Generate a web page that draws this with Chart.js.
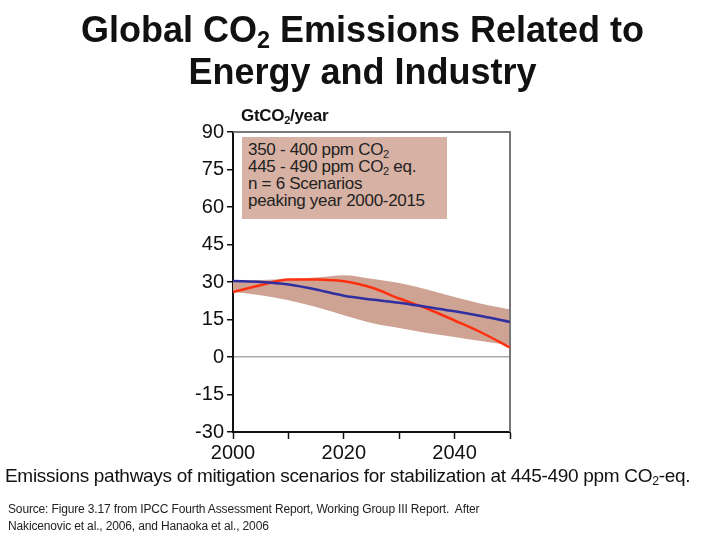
<!DOCTYPE html>
<html>
<head>
<meta charset="utf-8">
<style>
  body { margin:0; background:#fff; font-family:"Liberation Sans", Arial, sans-serif; }
  #wrap { position:relative; width:725px; height:544px; overflow:hidden; }
  #c { position:absolute; left:0; top:0; }
  .t { position:absolute; color:#111; white-space:nowrap; }
  #title { left:0; width:725px; top:9px; text-align:center; font-weight:bold; font-size:36px; line-height:42px; }
  #unit { left:241px; top:106px; font-weight:bold; font-size:17px; letter-spacing:-0.3px; }
  #note { left:242px; top:137px; width:205px; height:82px; background:#d7b1a3; font-size:17px; line-height:17px; letter-spacing:-0.3px; padding:4px 0 0 6px; box-sizing:border-box; color:#222; }
  #cap { left:5px; top:465px; font-size:19px; letter-spacing:-0.3px; }
  #src { left:8px; top:501px; font-size:12px; line-height:17px; letter-spacing:-0.15px; color:#222; }
  sub { font-size:65%; vertical-align:-0.25em; line-height:0; }
</style>
</head>
<body>
<div id="wrap">
  <canvas id="c" width="725" height="544"></canvas>
  <div class="t" id="title">Global CO<sub>2</sub> Emissions Related to<br>Energy and Industry</div>
  <div class="t" id="unit">GtCO<sub>2</sub>/year</div>
  <div class="t" id="note">350 - 400 ppm CO<sub>2</sub><br>445 - 490 ppm CO<sub>2</sub> eq.<br>n = 6 Scenarios<br>peaking year 2000-2015</div>
  <div class="t" id="cap">Emissions pathways of mitigation scenarios for stabilization at 445-490 ppm CO<sub>2</sub>-eq.</div>
  <div class="t" id="src">Source: Figure 3.17 from IPCC Fourth Assessment Report, Working Group III Report.&nbsp; After<br>Nakicenovic et al., 2006, and Hanaoka et al., 2006</div>
</div>
<script src="https://cdn.jsdelivr.net/npm/chart.js@4/dist/chart.umd.min.js"></script>
<script>
// range of the scenarios (shaded band)
var bandYears = [2000, 2005, 2010, 2015, 2020, 2025, 2030, 2035, 2040, 2045, 2050];
var bandHigh  = [30.7, 30.8, 31.2, 31.8, 32.7, 31.3, 29.6, 27.0, 24.0, 21.2, 19.0];
var bandLow   = [26.0, 24.7, 22.7, 20.0, 16.7, 13.6, 11.6, 9.6, 8.0, 6.3, 4.8];

// red scenario
var redYears = [2000, 2005, 2010, 2015, 2018, 2020, 2025, 2030, 2035, 2040, 2045, 2050];
var redVals  = [26.0, 28.7, 31.0, 31.0, 30.7, 30.3, 27.8, 23.4, 19.4, 14.6, 9.6, 3.8];

// blue scenario
var blueYears = [2000, 2005, 2010, 2015, 2020, 2025, 2030, 2035, 2040, 2045, 2050];
var blueVals  = [30.4, 30.0, 29.0, 27.0, 24.5, 23.0, 21.7, 20.0, 18.3, 16.3, 14.0];

var yTicks = [-30, -15, 0, 15, 30, 45, 60, 75, 90];
var xLabels = [2000, 2020, 2040];

function pts(xs, ys) { return xs.map(function(x, i){ return {x:x, y:ys[i]}; }); }

var frame = {
  id: 'frame',
  beforeDatasetsDraw: function(chart) {
    var a = chart.chartArea, ctx = chart.ctx;
    ctx.save();
    ctx.strokeStyle = '#777';
    ctx.lineWidth = 2;
    ctx.beginPath();
    ctx.moveTo(a.left, a.top); ctx.lineTo(a.right, a.top); ctx.lineTo(a.right, a.bottom);
    ctx.stroke();
    ctx.restore();
  }
};

new Chart(document.getElementById('c'), {
  type: 'line',
  data: {
    datasets: [
      { data: pts(bandYears, bandHigh), borderWidth:0, pointRadius:0, fill:'+1', backgroundColor:'#cfa394', cubicInterpolationMode:'monotone' },
      { data: pts(bandYears, bandLow), borderWidth:0, pointRadius:0, fill:false, cubicInterpolationMode:'monotone' },
      { data: pts(blueYears, blueVals), borderColor:'#2f2fa0', borderWidth:2.5, pointRadius:0, fill:false, cubicInterpolationMode:'monotone' },
      { data: pts(redYears, redVals), borderColor:'#ff3010', borderWidth:2.5, pointRadius:0, fill:false, cubicInterpolationMode:'monotone' }
    ]
  },
  options: {
    responsive:false, animation:false,
    layout: { padding: { left:0, top:132, right:215, bottom:82 } },
    plugins: { legend:{display:false}, tooltip:{enabled:false}, filler:{ drawTime:'beforeDatasetsDraw' } },
    scales: {
      x: {
        type:'linear', min:2000, max:2050,
        afterFit: function(s){ s.height = 30; },
        afterBuildTicks: function(s){ s.ticks = [2000,2010,2020,2030,2040,2050].map(function(v){ return {value:v}; }); },
        ticks: { autoSkip:false, maxRotation:0, padding:2, color:'#111', font:{ size:20, family:'Liberation Sans' },
          callback: function(v){ return xLabels.indexOf(v) >= 0 ? String(v) : ''; } },
        grid: { drawOnChartArea:false, tickLength:7, tickColor:'#111', tickWidth:1.5 },
        border: { color:'#111', width:2 }
      },
      y: {
        min:-30, max:90,
        afterFit: function(s){ s.width = 233; },
        afterBuildTicks: function(s){ s.ticks = yTicks.map(function(v){ return {value:v}; }); },
        ticks: { padding:3, color:'#111', font:{ size:20, family:'Liberation Sans' } },
        grid: { tickLength:6, tickColor:'#111', tickWidth:1.5,
          color: function(c){ return c.tick && c.tick.value === 0 ? '#aaa' : 'rgba(0,0,0,0)'; }, lineWidth:1.5 },
        border: { color:'#111', width:2 }
      }
    }
  },
  plugins: [frame]
});
</script>
</body>
</html>
